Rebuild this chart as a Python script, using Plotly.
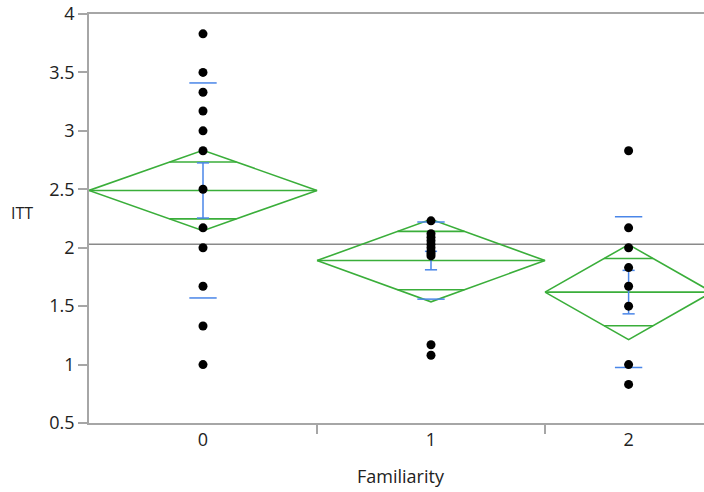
import numpy as np
import plotly.graph_objects as go

# ---- data ----
categories = ["0", "1", "2"]
group_n = [15, 15, 11]
pts_0 = [3.83, 3.5, 3.33, 3.17, 3.0, 2.83, 2.5, 2.17, 2.0, 1.67, 1.33, 1.0]
pts_1 = [2.23, 2.12, 2.09, 2.06, 2.03, 2.0, 1.97, 1.95, 1.93, 1.17, 1.08]
pts_2 = [2.83, 2.17, 2.0, 1.83, 1.67, 1.5, 1.0, 0.83]
group_means = [2.49, 1.89, 1.62]
ci_half = [0.344, 0.353, 0.407]
se_half = [0.236, 0.079, 0.186]
sd_vals = [0.92, 0.33, 0.645]
grand_mean = 2.03
y_ticks = [0.5, 1, 1.5, 2, 2.5, 3, 3.5, 4]

GREEN = "#3aae3a"
BLUE = "#4a86e8"
AXIS = "#a6a6a6"
FONT = "Segoe UI, Open Sans, sans-serif"

edges = np.concatenate([[0], np.cumsum(group_n)])
centers = (edges[:-1] + edges[1:]) / 2
halfw = np.array(group_n) / 2

fig = go.Figure()

# grand mean line
fig.add_trace(go.Scatter(x=[edges[0], edges[-1]], y=[grand_mean, grand_mean], mode="lines",
                         line=dict(color="#8a8a8a", width=1.5), hoverinfo="skip"))

groups = [pts_0, pts_1, pts_2]
k = 1 / np.sqrt(2)
cap = 0.4
sdw = 0.9
for i in range(3):
    c, h, m, d = centers[i], halfw[i], group_means[i], ci_half[i]
    # diamond
    fig.add_trace(go.Scatter(x=[c - h, c, c + h, c, c - h], y=[m, m + d, m, m - d, m], mode="lines",
                             line=dict(color=GREEN, width=1.6), hoverinfo="skip"))
    # mean line
    fig.add_trace(go.Scatter(x=[c - h, c + h], y=[m, m], mode="lines",
                             line=dict(color=GREEN, width=1.6), hoverinfo="skip"))
    # overlap marks
    ow = h * (1 - k)
    for s in (1, -1):
        fig.add_trace(go.Scatter(x=[c - ow, c + ow], y=[m + s * d * k] * 2, mode="lines",
                                 line=dict(color=GREEN, width=1.6), hoverinfo="skip"))
    # error bar (mean +/- se)
    e = se_half[i]
    fig.add_trace(go.Scatter(x=[c, c, None, c - cap, c + cap, None, c - cap, c + cap],
                             y=[m - e, m + e, None, m + e, m + e, None, m - e, m - e], mode="lines",
                             line=dict(color=BLUE, width=1.5), hoverinfo="skip"))
    # std dev lines
    sdv = sd_vals[i]
    fig.add_trace(go.Scatter(x=[c - sdw, c + sdw, None, c - sdw, c + sdw],
                             y=[m + sdv, m + sdv, None, m - sdv, m - sdv], mode="lines",
                             line=dict(color=BLUE, width=1.5), hoverinfo="skip"))

for i, pts in enumerate(groups):
    fig.add_trace(go.Scatter(x=[centers[i]] * len(pts), y=pts, mode="markers",
                             marker=dict(color="black", size=9), hoverinfo="skip"))

plot_px = 615
px_per_unit = 15.2
fig.update_layout(
    width=704, height=492,
    margin=dict(l=89, r=0, t=14, b=69),
    paper_bgcolor="white", plot_bgcolor="white",
    showlegend=False,
    font=dict(family=FONT, size=18, color="#222"),
    xaxis=dict(range=[0, plot_px / px_per_unit], tickvals=list(centers), ticktext=categories,
               ticks="", showgrid=False, zeroline=False, showline=True, linecolor=AXIS,
               linewidth=1.5, mirror=True,
               minor=dict(tickvals=list(edges[1:-1]), ticks="outside", ticklen=9,
                          tickcolor=AXIS, tickwidth=1.5, showgrid=False)),
    yaxis=dict(range=[0.5, 4], tickvals=y_ticks, ticktext=[f"{v:g}" for v in y_ticks],
               ticks="outside", ticklen=9, tickcolor=AXIS, tickwidth=1.5,
               showgrid=False, zeroline=False, showline=True, linecolor=AXIS, linewidth=1.5),
)

fig.add_annotation(text="Familiarity", xref="x", yref="paper", x=edges[-1] / 2, y=-0.13,
                   showarrow=False, yanchor="middle", font=dict(size=18))
fig.add_annotation(text="ITT", xref="paper", yref="paper", x=-0.109, y=0.513,
                   showarrow=False, xanchor="center", yanchor="middle", font=dict(size=16))

fig.write_html("out.html")
